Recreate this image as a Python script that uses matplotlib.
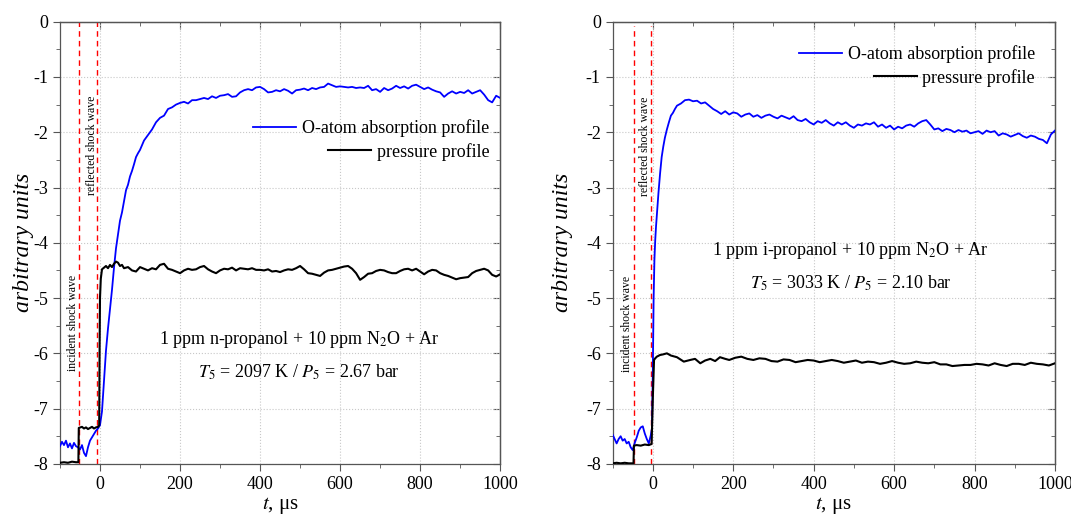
import numpy as np
import matplotlib.pyplot as plt
from matplotlib.ticker import MultipleLocator, NullFormatter

plt.rcParams['font.family'] = ['Liberation Serif', 'DejaVu Serif']
plt.rcParams['mathtext.fontset'] = 'stix'
plt.rcParams['axes.unicode_minus'] = False

# left panel: n-propanol
t_left_abs = [-100, -95, -90, -85, -80, -75, -70, -65, -60, -55, -50, -45, -40, -35, -30, -25, -20, -15, -10, -5,
              0, 5, 10, 15, 20, 25, 30, 35, 40, 45, 50, 55, 60, 65, 70, 75, 80, 85, 90, 95,
              100, 110, 120, 130, 140, 150, 160, 170, 180, 190, 200, 210, 220, 230, 240, 250, 260, 270, 280, 290,
              300, 310, 320, 330, 340, 350, 360, 370, 380, 390, 400, 410, 420, 430, 440, 450, 460, 470, 480, 490,
              500, 510, 520, 530, 540, 550, 560, 570, 580, 590, 600, 610, 620, 630, 640, 650, 660, 670, 680, 690,
              700, 710, 720, 730, 740, 750, 760, 770, 780, 790, 800, 810, 820, 830, 840, 850, 860, 870, 880, 890,
              900, 910, 920, 930, 940, 950, 960, 970, 980, 990, 1000]
o_left = [-7.68, -7.60, -7.66, -7.58, -7.70, -7.63, -7.72, -7.62, -7.68, -7.70, -7.74, -7.66, -7.80, -7.86, -7.70, -7.58, -7.52, -7.46, -7.40, -7.36,
          -7.30, -7.05, -6.50, -5.95, -5.55, -5.20, -4.85, -4.45, -4.10, -3.85, -3.60, -3.45, -3.25, -3.05, -2.95, -2.80, -2.70, -2.58, -2.45, -2.38,
          -2.32, -2.15, -2.05, -1.95, -1.82, -1.74, -1.70, -1.58, -1.55, -1.50, -1.47, -1.45, -1.48, -1.42, -1.42, -1.40, -1.38, -1.40, -1.35, -1.38,
          -1.34, -1.33, -1.31, -1.36, -1.35, -1.28, -1.24, -1.22, -1.24, -1.19, -1.18, -1.22, -1.28, -1.27, -1.24, -1.26, -1.22, -1.25, -1.30, -1.24,
          -1.23, -1.21, -1.24, -1.20, -1.22, -1.19, -1.18, -1.12, -1.15, -1.18, -1.17, -1.18, -1.19, -1.18, -1.20, -1.19, -1.20, -1.16, -1.24, -1.22,
          -1.27, -1.20, -1.24, -1.21, -1.16, -1.20, -1.17, -1.21, -1.16, -1.14, -1.18, -1.22, -1.19, -1.23, -1.26, -1.28, -1.36, -1.30, -1.26, -1.30,
          -1.27, -1.29, -1.24, -1.30, -1.27, -1.24, -1.32, -1.42, -1.46, -1.34, -1.38]

t_left_p = [-100, -90, -80, -70, -60, -54, -53, -45, -40, -35, -30, -25, -20, -15, -10, -5, -2, -1, 0, 2,
            5, 10, 15, 20, 25, 30, 35, 40, 45, 50, 55, 60, 70, 80, 90, 100, 110, 120, 130, 140,
            150, 160, 170, 180, 190, 200, 210, 220, 230, 240, 250, 260, 270, 280, 290, 300, 310, 320, 330, 340,
            350, 360, 370, 380, 390, 400, 410, 420, 430, 440, 450, 460, 470, 480, 490, 500, 510, 520, 530, 540,
            550, 560, 570, 580, 590, 600, 610, 620, 630, 640, 650, 660, 670, 680, 690, 700, 710, 720, 730, 740,
            750, 760, 770, 780, 790, 800, 810, 820, 830, 840, 850, 860, 870, 880, 890, 900, 910, 920, 930, 940,
            950, 960, 970, 980, 990, 1000]
p_left = [-7.98, -7.97, -7.98, -7.96, -7.97, -7.97, -7.35, -7.33, -7.36, -7.34, -7.37, -7.35, -7.33, -7.36, -7.34, -7.33, -7.30, -6.00, -5.00, -4.65,
          -4.48, -4.45, -4.42, -4.46, -4.40, -4.44, -4.38, -4.34, -4.36, -4.42, -4.40, -4.46, -4.44, -4.50, -4.52, -4.44, -4.47, -4.50, -4.46, -4.48,
          -4.40, -4.38, -4.47, -4.49, -4.52, -4.55, -4.50, -4.47, -4.49, -4.48, -4.44, -4.42, -4.48, -4.52, -4.55, -4.50, -4.47, -4.48, -4.45, -4.50,
          -4.46, -4.47, -4.48, -4.46, -4.49, -4.49, -4.50, -4.48, -4.52, -4.51, -4.53, -4.50, -4.48, -4.49, -4.46, -4.42, -4.48, -4.55, -4.56, -4.58,
          -4.60, -4.54, -4.50, -4.49, -4.47, -4.45, -4.43, -4.42, -4.47, -4.55, -4.67, -4.62, -4.56, -4.55, -4.51, -4.49, -4.50, -4.53, -4.55, -4.55,
          -4.51, -4.48, -4.47, -4.50, -4.47, -4.52, -4.57, -4.52, -4.49, -4.50, -4.55, -4.58, -4.60, -4.63, -4.66, -4.64, -4.63, -4.62, -4.55, -4.51,
          -4.49, -4.47, -4.50, -4.58, -4.61, -4.57]

# right panel: i-propanol
t_right_abs = [-100, -95, -90, -85, -80, -75, -70, -65, -60, -55, -50, -45, -40, -35, -30, -25, -20, -15, -10, -5,
               -2, 0, 2, 4, 6, 8, 10, 14, 18, 22, 26, 30, 35, 40, 45, 50, 55, 60, 70, 80,
               90, 100, 110, 120, 130, 140, 150, 160, 170, 180, 190, 200, 210, 220, 230, 240, 250, 260, 270, 280,
               290, 300, 310, 320, 330, 340, 350, 360, 370, 380, 390, 400, 410, 420, 430, 440, 450, 460, 470, 480,
               490, 500, 510, 520, 530, 540, 550, 560, 570, 580, 590, 600, 610, 620, 630, 640, 650, 660, 670, 680,
               690, 700, 710, 720, 730, 740, 750, 760, 770, 780, 790, 800, 810, 820, 830, 840, 850, 860, 870, 880,
               890, 900, 910, 920, 930, 940, 950, 960, 970, 980, 990, 1000]
o_right = [-7.47, -7.55, -7.63, -7.55, -7.50, -7.58, -7.55, -7.63, -7.60, -7.70, -7.75, -7.62, -7.52, -7.40, -7.34, -7.32, -7.45, -7.55, -7.63, -7.48,
           -7.35, -6.30, -5.00, -4.30, -3.95, -3.70, -3.50, -3.10, -2.75, -2.45, -2.26, -2.10, -1.95, -1.82, -1.70, -1.65, -1.58, -1.52, -1.48, -1.42,
           -1.41, -1.44, -1.43, -1.48, -1.46, -1.52, -1.58, -1.62, -1.67, -1.62, -1.68, -1.64, -1.66, -1.72, -1.68, -1.66, -1.72, -1.69, -1.74, -1.70,
           -1.68, -1.72, -1.75, -1.70, -1.73, -1.76, -1.71, -1.78, -1.80, -1.76, -1.82, -1.86, -1.80, -1.83, -1.78, -1.84, -1.88, -1.82, -1.86, -1.82,
           -1.88, -1.92, -1.86, -1.88, -1.84, -1.86, -1.82, -1.90, -1.86, -1.92, -1.88, -1.95, -1.90, -1.93, -1.88, -1.86, -1.90, -1.84, -1.80, -1.78,
           -1.86, -1.95, -1.93, -1.98, -1.94, -1.96, -2.00, -1.96, -1.99, -1.97, -2.02, -2.00, -1.98, -2.03, -1.97, -2.00, -1.98, -2.06, -2.02, -2.04,
           -2.08, -2.05, -2.02, -2.07, -2.10, -2.06, -2.08, -2.12, -2.14, -2.20, -2.04, -1.97]

t_right_p = [-100, -90, -80, -70, -60, -48, -47, -40, -30, -20, -10, -3, 0, 3, 6, 10, 18, 25, 35, 45,
             60, 77, 93, 105, 118, 130, 143, 155, 167, 180, 190, 205, 220, 235, 250, 265, 280, 295, 310, 325,
             340, 355, 370, 385, 400, 415, 430, 445, 460, 475, 490, 505, 520, 535, 550, 565, 580, 595, 610, 625,
             640, 655, 670, 685, 700, 715, 730, 745, 760, 775, 790, 805, 820, 835, 850, 865, 880, 895, 910, 925,
             940, 955, 970, 985, 1000]
p_right = [-7.99, -7.98, -7.99, -7.98, -7.99, -7.99, -7.67, -7.66, -7.67, -7.65, -7.66, -7.64, -6.80, -6.12, -6.09, -6.06, -6.03, -6.02, -6.00, -6.04,
           -6.07, -6.15, -6.12, -6.10, -6.18, -6.13, -6.10, -6.14, -6.07, -6.10, -6.12, -6.08, -6.06, -6.10, -6.12, -6.09, -6.10, -6.14, -6.15, -6.11,
           -6.12, -6.16, -6.14, -6.12, -6.13, -6.16, -6.14, -6.12, -6.14, -6.17, -6.15, -6.13, -6.17, -6.15, -6.16, -6.19, -6.17, -6.14, -6.17, -6.19,
           -6.18, -6.15, -6.17, -6.18, -6.16, -6.20, -6.20, -6.23, -6.22, -6.21, -6.21, -6.19, -6.20, -6.22, -6.18, -6.21, -6.23, -6.19, -6.19, -6.21,
           -6.17, -6.19, -6.20, -6.22, -6.18]

panels = [
    dict(t_abs=t_left_abs, o=o_left, t_p=t_left_p, p=p_left,
         incident=-53, reflected=-8, shock_top=1.0,
         inc_pos=(-67, -5.45), ref_pos=(-21, -2.23),
         legend_anchor=(0.975, 0.779), ylabel_x=-0.06,
         mixture='1 ppm n-propanol + 10 ppm N$_2$O + Ar',
         cond='$T_5$ = 2097 K / $P_5$ = 2.67 bar', text_pos=(0.543, 0.245)),
    dict(t_abs=t_right_abs, o=o_right, t_p=t_right_p, p=p_right,
         incident=-47, reflected=-4, shock_top=0.99,
         inc_pos=(-64, -5.47), ref_pos=(-19, -2.25),
         legend_anchor=(0.955, 0.946), ylabel_x=-0.09,
         mixture='1 ppm i-propanol + 10 ppm N$_2$O + Ar',
         cond='$T_5$ = 3033 K / $P_5$ = 2.10 bar', text_pos=(0.538, 0.447)),
]

fig = plt.figure(figsize=(10.71, 5.16), dpi=100)
axes = [fig.add_axes([0.056, 0.101, 0.411, 0.857]),
        fig.add_axes([0.572, 0.101, 0.413, 0.857])]

for ax, pn in zip(axes, panels):
    ax.plot(pn['t_abs'], pn['o'], color='#0000ff', lw=1.3, label='O-atom absorption profile', zorder=3)
    ax.plot(pn['t_p'], pn['p'], color='black', lw=1.5, label='pressure profile', zorder=3)
    ax.axvline(pn['incident'], ymax=pn['shock_top'], color='#ff0000', ls=(0, (4, 3)), lw=1.0, zorder=2)
    ax.axvline(pn['reflected'], ymax=pn['shock_top'], color='#ff0000', ls=(0, (4, 3)), lw=1.0, zorder=2)
    ax.text(pn['inc_pos'][0], pn['inc_pos'][1], 'incident shock wave', rotation=90,
            ha='center', va='center', fontsize=8.5)
    ax.text(pn['ref_pos'][0], pn['ref_pos'][1], 'reflected shock wave', rotation=90,
            ha='center', va='center', fontsize=8.5)
    ax.text(pn['text_pos'][0], pn['text_pos'][1], pn['mixture'] + '\n' + pn['cond'],
            transform=ax.transAxes, ha='center', va='center', fontsize=13, linespacing=1.85)

    ax.set_xlim(-100, 1000)
    ax.set_ylim(-8, 0)
    ax.xaxis.set_major_locator(MultipleLocator(200))
    ax.xaxis.set_minor_locator(MultipleLocator(100))
    ax.yaxis.set_major_locator(MultipleLocator(1))
    ax.yaxis.set_minor_locator(MultipleLocator(0.5))
    ax.grid(True, which='major', color='#c8c8c8', ls=':', lw=0.8)
    ax.tick_params(which='both', direction='out', labelsize=13, color='#555555')
    ax.tick_params(which='major', length=5)
    ax.tick_params(which='minor', length=3)
    for s in ax.spines.values():
        s.set_color('#555555')
        s.set_linewidth(0.9)

    # inward ticks on top and right
    top = ax.secondary_xaxis('top')
    right = ax.secondary_yaxis('right')
    top.xaxis.set_major_locator(MultipleLocator(200))
    top.xaxis.set_minor_locator(MultipleLocator(100))
    right.yaxis.set_major_locator(MultipleLocator(1))
    right.yaxis.set_minor_locator(MultipleLocator(0.5))
    for sec in (top, right):
        sec.tick_params(which='both', direction='in', color='#555555')
        sec.tick_params(which='major', length=5)
        sec.tick_params(which='minor', length=3)
        for s in sec.spines.values():
            s.set_color('#555555')
            s.set_linewidth(0.9)
    top.xaxis.set_major_formatter(NullFormatter())
    right.yaxis.set_major_formatter(NullFormatter())

    ax.set_xlabel('$t$, μs', fontsize=15, labelpad=2)
    ax.set_ylabel('arbitrary units', fontsize=17, style='italic')
    ax.yaxis.set_label_coords(pn['ylabel_x'], 0.5)

    leg = ax.legend(loc='upper right', bbox_to_anchor=pn['legend_anchor'], frameon=False,
                    fontsize=13, handlelength=2.4, handletextpad=0.3, labelspacing=0.3,
                    borderaxespad=0, borderpad=0)
    for col in leg._legend_handle_box.get_children():
        col.align = 'right'

fig.savefig('out.png', dpi=100)
